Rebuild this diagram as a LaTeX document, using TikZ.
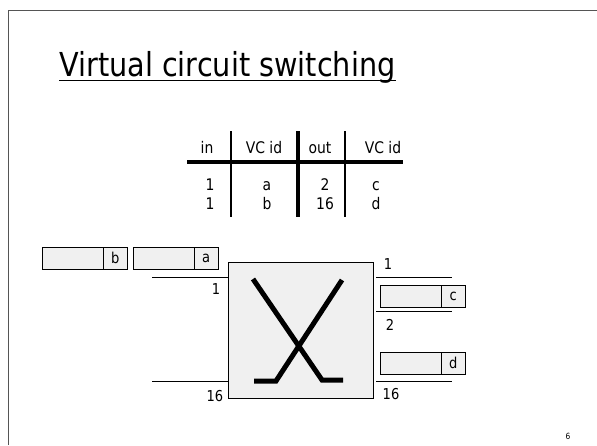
\documentclass[tikz,border=0pt]{standalone}
\usepackage{fontspec}
\setmainfont{DejaVu Sans}[FakeStretch=0.87]
\usetikzlibrary{positioning}
\definecolor{boxGray}{HTML}{f0f0f0}
\definecolor{frameGray}{HTML}{555555}

\newcommand{\packet}[4]{
    \node (#1) [rectangle, draw, fill=boxGray, minimum width=61pt, minimum height=22pt, anchor=west] at (#3,#4) {};
    \node (#1_id) [rectangle, draw, fill=boxGray, minimum width=24pt, minimum height=22pt, font=\fontsize{15}{15}\selectfont, right=-\the\pgflinewidth of #1] {#2};
}

\begin{document}
\begin{tikzpicture}[x=1pt, y=-1pt, inner sep=0pt,
    celltext/.style={font=\fontsize{16}{16}\selectfont, anchor=base},
    portlabel/.style={font=\fontsize{15}{15}\selectfont, anchor=base},
    port/.style={line width=1pt},
    xstroke/.style={line width=5pt},
    switchbox/.style={rectangle, draw, line width=0.8pt, fill=boxGray, minimum width=145pt, minimum height=136pt}]
    \useasboundingbox (0,0) rectangle (597,445);

    % slide frame and title
    \draw [frameGray, line width=1.6pt] (8.5,445) -- (8.5,10.5) -- (597,10.5);
    \node (title) [font=\fontsize{33}{33}\selectfont, anchor=base west] at (59,76) {Virtual circuit switching};
    \draw [line width=1.6pt] ([yshift=-4.5pt]title.base west) -- ([yshift=-4.5pt]title.base east);

    % table
    \node (hIn) [celltext] at (207,153) {in};
    \node (hVcIn) [celltext] at (264,153) {VC id};
    \node (hOut) [celltext] at (320,153) {out};
    \node (hVcOut) [celltext] at (383,153) {VC id};
    \foreach \r/\vin/\vid/\vout/\vod/\y in {1/1/a/2/c/190, 2/1/b/16/d/209} {
        \node (in\r) [celltext] at (210,\y) {\vin};
        \node (vcin\r) [celltext] at (267,\y) {\vid};
        \node (out\r) [celltext] at (325,\y) {\vout};
        \node (vcout\r) [celltext] at (376,\y) {\vod};
    }
    \draw [line width=1.6pt] (231,131) -- (231,217);
    \draw [line width=3.5pt] (298,131) -- (298,217);
    \draw [line width=1.6pt] (345,131) -- (345,217);
    \draw [line width=3.5pt] (187,162) -- (403,162);

    % switch
    \node (switch) [switchbox] at (300.5,330) {};
    \draw [xstroke] (253,279) -- (322,380) -- (343,380);
    \draw [xstroke] (342,280) -- (276,381) -- (254,381);

    % ports
    \coordinate (portIn1) at (152,277);
    \coordinate (portIn16) at (152,381);
    \coordinate (portOut1) at (452,277);
    \coordinate (portOut2) at (452,311);
    \coordinate (portOut16) at (452,381);
    \draw [port] (portIn1) -- (portIn1 -| switch.west);
    \draw [port] (portIn16) -- (portIn16 -| switch.west);
    \draw [port] (portOut1 -| switch.east) ++(3,0) -- (portOut1);
    \draw [port] (portOut2 -| switch.east) ++(3,0) -- (portOut2);
    \draw [port] (portOut16 -| switch.east) ++(3,0) -- (portOut16);

    \node (lblIn1) [portlabel] at (216,294) {1};
    \node (lblIn16) [portlabel] at (215,401) {16};
    \node (lblOut1) [portlabel] at (388,269) {1};
    \node (lblOut2) [portlabel] at (390,330) {2};
    \node (lblOut16) [portlabel] at (391,399) {16};

    % packets
    \packet{pktB}{b}{42}{258}
    \packet{pktA}{a}{133}{258}
    \packet{pktC}{c}{380}{296}
    \packet{pktD}{d}{380}{363}

    \node (pageNum) [font=\fontsize{8.5}{9}\selectfont, anchor=base] at (568,439) {6};
\end{tikzpicture}
\end{document}
